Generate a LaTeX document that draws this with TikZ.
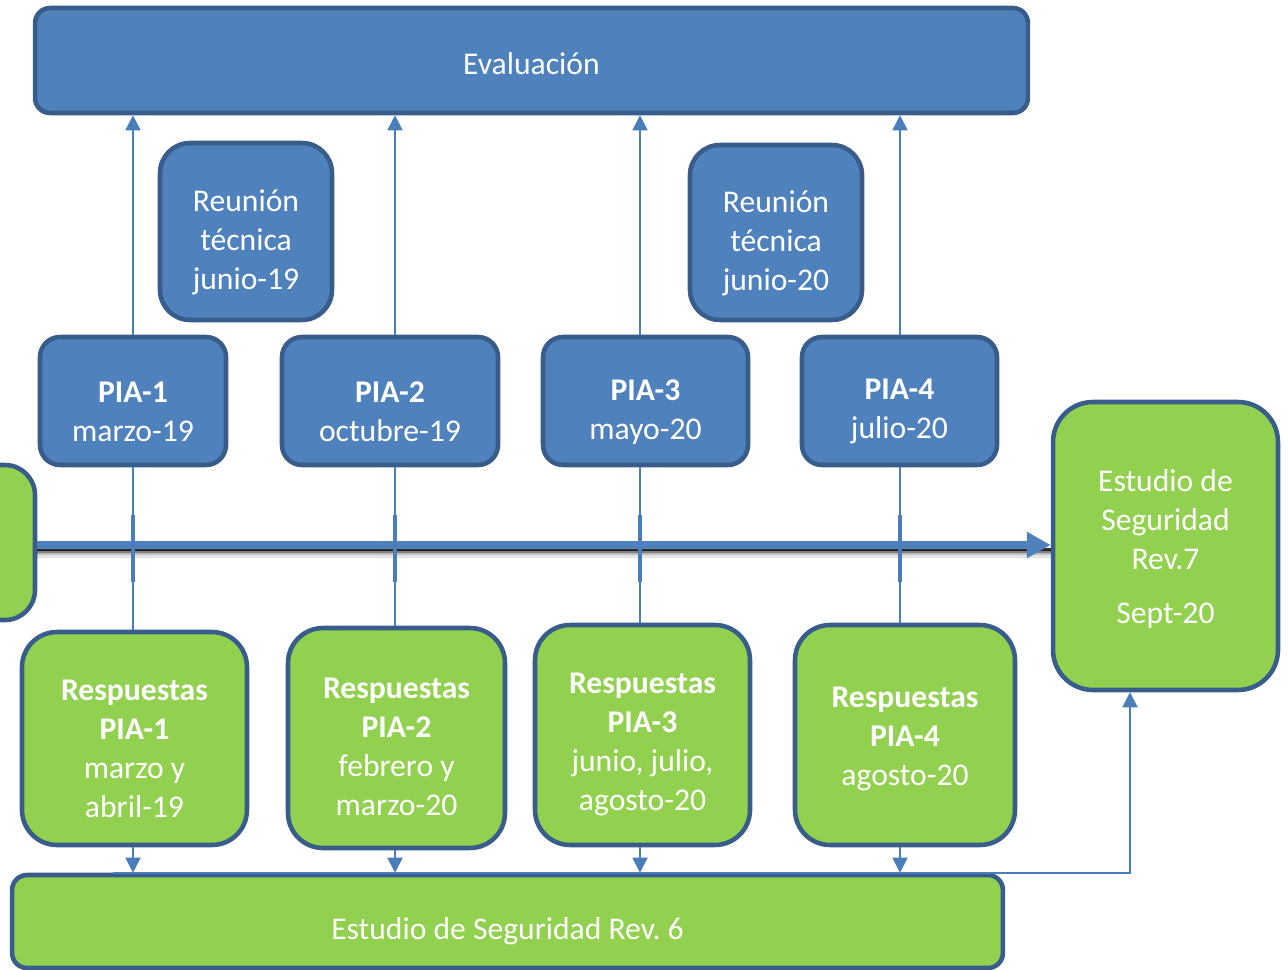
\documentclass[tikz,border=0pt]{standalone}
\usepackage{fontspec}
\setmainfont{Carlito}
\usetikzlibrary{arrows.meta}
\definecolor{boxblue}{HTML}{4F81BD}
\definecolor{edgeblue}{HTML}{385D8A}
\definecolor{boxgreen}{HTML}{92D050}
\definecolor{lineblue}{HTML}{4A7EBB}
\newcommand{\pushdown}[1]{\rule{0pt}{#1}}
\tikzset{
  blk/.style={draw=edgeblue, line width=2.6pt, text=white, align=center, inner sep=0pt,
    font=\fontsize{18}{22.2}\selectfont},
  bluebox/.style={blk, fill=boxblue},
  greenbox/.style={blk, fill=boxgreen},
  link/.style={draw=lineblue, line width=1.1pt},
  linkthick/.style={draw=lineblue, line width=2pt},
  uplink/.style={link, -{Triangle[length=0.3cm,width=0.3cm]}},
  mainarrow/.style={draw=boxblue, line width=4.5pt, -{Triangle[length=0.48cm,width=0.5cm]}},
  shade1/.style={draw=black, line width=1.5pt, opacity=#1}
}

\begin{document}
\frenchspacing
\begin{tikzpicture}[x=0.02cm,y=-0.02cm]
\clip (0,0) rectangle (1288,970);
% columnas
\coordinate (c0) at (113,0);
\coordinate (c1) at (133,515);
\coordinate (c2) at (395,515);
\coordinate (c3) at (640,515);
\coordinate (c4) at (900,515);
\coordinate (c5) at (1130,0);
\coordinate (axis) at (0,545);

% evaluacion y reuniones
\node[bluebox, minimum width=19.86cm, minimum height=2.1cm, rounded corners=0.3cm] (eval) at (531.5,60.5) {\pushdown{16pt}Evaluación};
\node[bluebox, minimum width=3.44cm, minimum height=3.54cm, rounded corners=0.6cm] (reu1) at (246,231.5) {\pushdown{24.5pt}Reunión\\técnica\\junio-19};
\node[bluebox, minimum width=3.44cm, minimum height=3.5cm, rounded corners=0.6cm] (reu2) at (776,232.5) {\pushdown{24.5pt}Reunión\\técnica\\junio-20};

% PIA
\node[bluebox, minimum width=3.72cm, minimum height=2.56cm, rounded corners=0.4cm] (pia1) at (133,401) {\pushdown{24pt}\textbf{PIA-1}\\marzo-19};
\node[bluebox, minimum width=4.32cm, minimum height=2.56cm, rounded corners=0.4cm] (pia2) at (390,401) {\pushdown{24pt}\textbf{PIA-2}\\octubre-19};
\node[bluebox, minimum width=4.1cm, minimum height=2.56cm, rounded corners=0.4cm] (pia3) at (645.5,401) {\pushdown{24pt}\textbf{PIA-3}\\mayo-20};
\node[bluebox, minimum width=3.9cm, minimum height=2.56cm, rounded corners=0.4cm] (pia4) at (899.5,401) {\pushdown{24pt}\textbf{PIA-4}\\julio-20};

% linea de tiempo
\node[greenbox, minimum width=4cm, minimum height=3.1cm, rounded corners=0.6cm] (left) at (-65,542.5) {};
\node[greenbox, minimum width=4.5cm, minimum height=5.76cm, rounded corners=0.8cm] (rev7) at (1165.5,546) {\pushdown{16pt}Estudio de\\Seguridad\\Rev.7\\[0.3cm]Sept-20};

% respuestas
\node[greenbox, minimum width=4.5cm, minimum height=4.26cm, rounded corners=0.7cm] (resp1) at (134.5,738.5) {\pushdown{24pt}\textbf{Respuestas}\\\textbf{PIA-1}\\marzo y\\abril-19};
\node[greenbox, minimum width=4.34cm, minimum height=4.4cm, rounded corners=0.7cm] (resp2) at (396.5,738) {\pushdown{22pt}\textbf{Respuestas}\\\textbf{PIA-2}\\febrero y\\marzo-20};
\node[greenbox, minimum width=4.3cm, minimum height=4.4cm, rounded corners=0.7cm] (resp3) at (642.5,735) {\pushdown{22pt}\textbf{Respuestas}\\\textbf{PIA-3}\\junio, julio,\\agosto-20};
\node[greenbox, minimum width=4.4cm, minimum height=4.4cm, rounded corners=0.7cm] (resp4) at (905,735) {\pushdown{16pt}\textbf{Respuestas}\\\textbf{PIA-4}\\agosto-20};
\node[greenbox, minimum width=19.82cm, minimum height=1.86cm, rounded corners=0.3cm] (rev6) at (507.5,921.5) {\pushdown{24pt}Estudio de Seguridad Rev. 6};

% flecha principal con sombra
\draw[shade1=0.8, transform canvas={yshift=-2.4pt}] (left.east |- axis) -- (rev7.west |- axis);
\draw[shade1=0.5, transform canvas={yshift=-3.8pt}] (left.east |- axis) -- (rev7.west |- axis);
\draw[shade1=0.25, transform canvas={yshift=-5.2pt}] (left.east |- axis) -- (rev7.west |- axis);
\draw[shade1=0.1, transform canvas={yshift=-6.6pt}] (left.east |- axis) -- (rev7.west |- axis);
\draw[mainarrow] (left.east |- axis) -- (rev7.west |- axis);

% PIA -> evaluacion
\draw[uplink] (pia1.north -| c1) -- (eval.south -| c1);
\draw[uplink] (pia2.north -| c2) -- (eval.south -| c2);
\draw[uplink] (pia3.north -| c3) -- (eval.south -| c3);
\draw[uplink] (pia4.north -| c4) -- (eval.south -| c4);

% PIA -- respuestas
\draw[link] (pia1.south -| c1) -- (resp1.north -| c1);
\draw[link] (pia2.south -| c2) -- (resp2.north -| c2);
\draw[link] (pia3.south -| c3) -- (resp3.north -| c3);
\draw[link] (pia4.south -| c4) -- (resp4.north -| c4);
\draw[linkthick] (c1) -- ++(0,67);
\draw[linkthick] (c2) -- ++(0,67);
\draw[linkthick] (c3) -- ++(0,67);
\draw[linkthick] (c4) -- ++(0,67);

% respuestas -> rev. 6 -> rev. 7
\draw[uplink] (resp1.south -| c1) -- (rev6.north -| c1);
\draw[uplink] (resp2.south -| c2) -- (rev6.north -| c2);
\draw[uplink] (resp3.south -| c3) -- (rev6.north -| c3);
\draw[uplink] (resp4.south -| c4) -- (rev6.north -| c4);
\draw[uplink] (rev6.north -| c0) -| (rev7.south -| c5);
\end{tikzpicture}
\end{document}
